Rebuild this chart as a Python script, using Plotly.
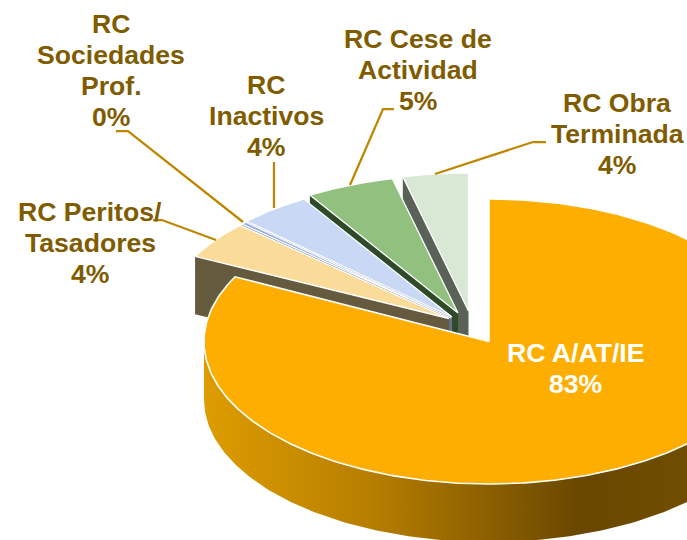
import numpy as np
import plotly.graph_objects as go

# Data
names = ["RC A/AT/IE", "RC Peritos/ Tasadores", "RC Sociedades Prof.", "RC Inactivos", "RC Cese de Actividad", "RC Obra Terminada"]
values = [82.5, 4.4, 0.3, 4.1, 5.0, 3.7]
label_lines = [
    ["RC A/AT/IE", "83%"],
    ["RC Peritos/", "Tasadores", "4%"],
    ["RC", "Sociedades", "Prof.", "0%"],
    ["RC", "Inactivos", "4%"],
    ["RC Cese de", "Actividad", "5%"],
    ["RC Obra", "Terminada", "4%"],
]

# Styles and layout
top_colors = ["#FDAE00", "#FBDB9A", "#8FAEE6", "#C8D8F5", "#92C07E", "#D8E8D4"]
wall_colors = [None, "#665A3E", "#5F6E8C", "#6C7486", "#2F4A28", "#5A6258"]
apex = [(489, 341.5), (449, 318.5), (451, 318), (452, 317), (458, 313), (468.5, 311)]
ry_slice = [142.5, 137, 138, 138, 138, 138]
RX, DEPTH = 285, 58
label_x = [575, 90, 111, 266, 418, 617]
label_y0 = [353, 212, 24, 85, 39, 103]
LINE_STEP = 31
TEXT = "#7F5C00"
LEADER = "#BF8600"
leaders = [
    [(116, 131), (128, 131), (243, 222)],
    [(274, 162), (274, 208)],
    [(153, 220), (162, 220), (216, 240)],
    [(394, 109), (383, 109), (350, 185)],
    [(546, 142), (533, 142), (435, 174)],
]


def arc(c, ry, a0, a1, n=160, dy=0):
    t = np.radians(np.linspace(a0, a1, n))
    return c[0] + RX * np.sin(t), c[1] - ry * np.cos(t) + dy


fig = go.Figure()
edges = np.cumsum([0] + values) / sum(values) * 360

# Back-to-front: last slice first, the large slice on top
for i in range(len(values) - 1, 0, -1):
    a0, a1 = edges[i], edges[i + 1]
    c = apex[i]
    ry = ry_slice[i]
    ox, oy = arc(c, ry, a0, a0, 1)
    fig.add_trace(go.Scatter(
        x=[ox[0], c[0], c[0], ox[0], ox[0]],
        y=[oy[0], c[1], c[1] + DEPTH, oy[0] + DEPTH, oy[0]],
        mode="lines", fill="toself", fillcolor=wall_colors[i],
        line=dict(width=0), hoverinfo="skip", showlegend=False))
    ax, ay = arc(c, ry, a0, a1)
    fig.add_trace(go.Scatter(
        x=np.r_[c[0], ax, c[0]], y=np.r_[c[1], ay, c[1]],
        mode="lines", fill="toself", fillcolor=top_colors[i],
        line=dict(color="white", width=1.3), name=names[i], showlegend=False))

# Large slice: outer wall, then top
c = apex[0]
ry = ry_slice[0]
wx0, wy0 = arc(c, ry, 90, 270)
wx1, wy1 = arc(c, ry, 270, 90, dy=DEPTH)
fig.add_trace(go.Scatter(
    x=np.r_[wx0, wx1, wx0[0]], y=np.r_[wy0, wy1, wy0[0]],
    mode="lines", fill="toself", line=dict(width=0), hoverinfo="skip", showlegend=False,
    fillgradient=dict(type="horizontal", start=205, stop=687, colorscale=[
        [0, "#DD9C00"], [0.35, "#B67E00"], [0.78, "#694700"], [1, "#6F4D00"]])))
ax, ay = arc(c, ry, edges[0], edges[1], n=400)
fig.add_trace(go.Scatter(
    x=np.r_[c[0], ax, c[0]], y=np.r_[c[1], ay, c[1]],
    mode="lines", fill="toself", fillcolor=top_colors[0],
    line=dict(color="white", width=1.6), name=names[0], showlegend=False))

# Leader lines
for pts in leaders:
    path = "M " + " L ".join(f"{x} {y}" for x, y in pts)
    fig.add_shape(type="path", path=path, line=dict(color=LEADER, width=2.25), layer="above")

# Labels, one annotation per line for exact line spacing
for i, lines in enumerate(label_lines):
    for j, s in enumerate(lines):
        fig.add_annotation(
            x=label_x[i], y=label_y0[i] + j * LINE_STEP, text=f"<b>{s}</b>", showarrow=False,
            xanchor="center", yanchor="middle",
            font=dict(family="Liberation Sans, Arial", size=26.6, color="white" if i == 0 else TEXT))

fig.update_xaxes(range=[0, 687], visible=False, fixedrange=True)
fig.update_yaxes(range=[540, 0], visible=False, fixedrange=True)
fig.update_layout(width=687, height=540, margin=dict(l=0, r=0, t=0, b=0),
                  paper_bgcolor="white", plot_bgcolor="white", showlegend=False)
fig.write_html("out.html", config={"displayModeBar": False},
               post_script="document.body.style.margin='0';")
